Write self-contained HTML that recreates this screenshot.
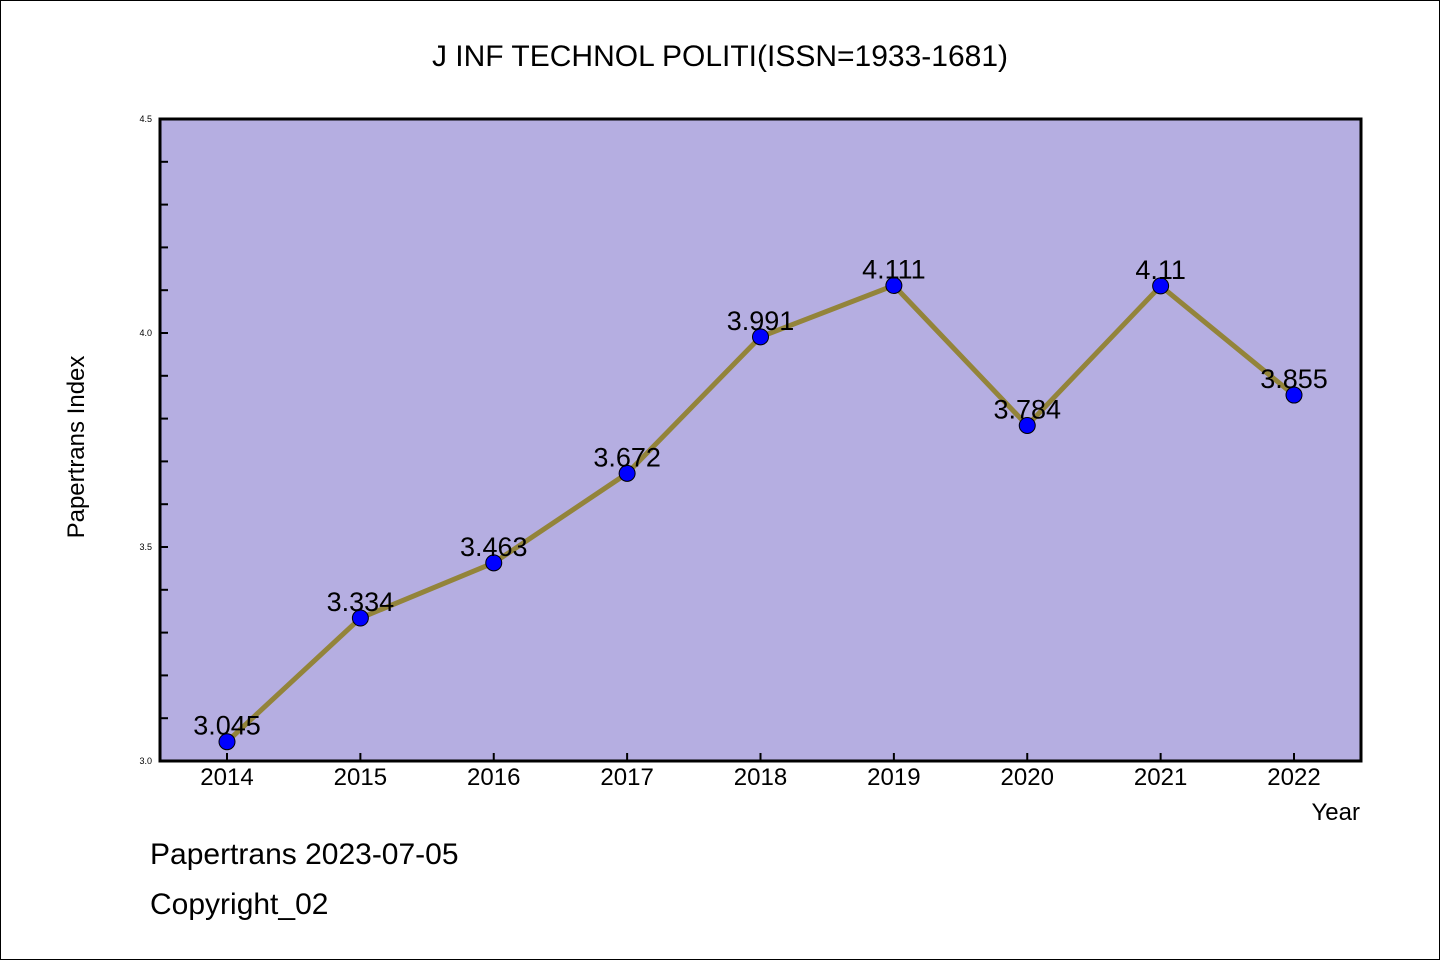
<!DOCTYPE html>
<html><head><meta charset="utf-8"><style>
html,body{margin:0;padding:0;background:#fff}
svg{display:block}
text{font-family:"WenQuanYi Zen Hei","Liberation Sans",sans-serif}
</style></head><body>
<svg id="chart" width="1440" height="960" xmlns="http://www.w3.org/2000/svg">
<rect x="0.5" y="0.5" width="1439" height="959" fill="#fff" stroke="#000" stroke-width="1"/>
<text x="720" y="66" font-size="30" text-anchor="middle">J INF TECHNOL POLITI(ISSN=1933-1681)</text>
<rect x="160" y="119" width="1201" height="642" fill="#b5aee1"/>
<g id="ticks"></g>
<g id="series"></g>
<rect x="160" y="119" width="1201" height="642" fill="none" stroke="#000" stroke-width="3"/>
<text transform="translate(84,447) rotate(-90)" font-size="24" text-anchor="middle">Papertrans Index</text>
<text x="1360" y="820" font-size="24" text-anchor="end">Year</text>
<text x="150" y="864" font-size="30">Papertrans 2023-07-05</text>
<text x="150" y="914" font-size="30">Copyright_02</text>
</svg>
<script>
const years=["2014","2015","2016","2017","2018","2019","2020","2021","2022"];
const values=[3.045,3.334,3.463,3.672,3.991,4.111,3.784,4.11,3.855];
const valueLabels=["3.045","3.334","3.463","3.672","3.991","4.111","3.784","4.11","3.855"];
const yTickLabels=["3.0","3.5","4.0","4.5"];
const yMin=3.0,yMax=4.5;
const NS="http://www.w3.org/2000/svg";
function xs(i){return 227+i*(1294-227)/(years.length-1);}
function ys(v){return 761-(v-yMin)/(yMax-yMin)*642;}
function mk(t,a){const e=document.createElementNS(NS,t);for(const k in a)e.setAttribute(k,a[k]);return e;}
const tg=document.getElementById('ticks'),sg=document.getElementById('series');
for(let k=0;k<=15;k++){const v=yMin+k*0.1;const y=ys(v);
 const l=mk('line',{x1:160,x2:168,y1:y,y2:y,stroke:'#000','stroke-width':2});
 
 
 tg.appendChild(l);}
yTickLabels.forEach(s=>{const t=mk('text',{x:152,y:ys(parseFloat(s))+3,'font-size':9,'text-anchor':'end'});t.textContent=s;
 
 
 tg.appendChild(t);});
years.forEach((yr,i)=>{const x=xs(i);
 const l=mk('line',{x1:x,x2:x,y1:753,y2:761,stroke:'#000','stroke-width':2});
 
 
 tg.appendChild(l);
 const t=mk('text',{x:x,y:785,'font-size':24,'text-anchor':'middle'});t.textContent=yr;
 
 
 tg.appendChild(t);});
const pts=values.map((v,i)=>xs(i)+','+ys(v)).join(' ');
const pl=mk('polyline',{points:pts,fill:'none',stroke:'#93843a','stroke-width':5,'stroke-linejoin':'round'});


sg.appendChild(pl);
values.forEach((v,i)=>{
 const c=mk('circle',{cx:xs(i),cy:ys(v),r:8,fill:'#0000ff',stroke:'#000','stroke-width':1});
 
 
 sg.appendChild(c);
 const t=mk('text',{x:xs(i),y:ys(v)-7,'font-size':27,'text-anchor':'middle'});t.textContent=valueLabels[i];
 
 
 sg.appendChild(t);});
</script>
</body></html>
